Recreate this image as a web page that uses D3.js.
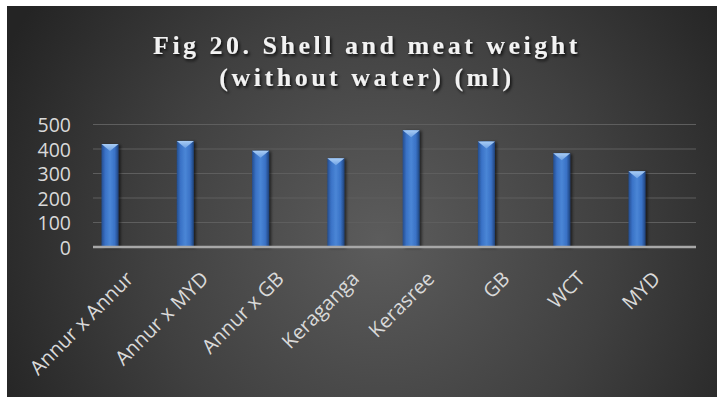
<!DOCTYPE html>
<html>
<head>
<meta charset="utf-8">
<script src="https://cdn.jsdelivr.net/npm/d3@7"></script>
<style>
  html, body { margin: 0; padding: 0; background: #ffffff; }
  svg { display: block; }
</style>
</head>
<body>
<svg id="chart" width="717" height="397"></svg>
<script>
// Shell and meat weight (without water), ml
const categories = ["Annur x Annur", "Annur x MYD", "Annur x GB", "Keraganga", "Kerasree", "GB", "WCT", "MYD"];
const values = [420, 433, 393, 362, 477, 431, 383, 309];
const yTicks = [0, 100, 200, 300, 400, 500];
const titleLines = ["Fig 20. Shell and meat weight", "(without water) (ml)"];

const svg = d3.select("#chart");
const W = 717, H = 397;
const defs = svg.append("defs");

// dark radial backdrop
const bg = defs.append("radialGradient").attr("id", "bgGrad")
  .attr("gradientUnits", "userSpaceOnUse")
  .attr("cx", 380).attr("cy", 240).attr("r", 420);
bg.append("stop").attr("offset", "0%").attr("stop-color", "#5c5c5c");
bg.append("stop").attr("offset", "55%").attr("stop-color", "#404040");
bg.append("stop").attr("offset", "100%").attr("stop-color", "#242424");

// bar body: darker edges, lighter middle
const barGrad = defs.append("linearGradient").attr("id", "barGrad")
  .attr("x1", "0%").attr("x2", "100%").attr("y1", "0%").attr("y2", "0%");
barGrad.append("stop").attr("offset", "0%").attr("stop-color", "#244d8e");
barGrad.append("stop").attr("offset", "22%").attr("stop-color", "#3a72c6");
barGrad.append("stop").attr("offset", "50%").attr("stop-color", "#4a86d6");
barGrad.append("stop").attr("offset", "78%").attr("stop-color", "#3a72c6");
barGrad.append("stop").attr("offset", "100%").attr("stop-color", "#1f437c");

const capGrad = defs.append("linearGradient").attr("id", "capGrad")
  .attr("x1", "0%").attr("x2", "0%").attr("y1", "0%").attr("y2", "100%");
capGrad.append("stop").attr("offset", "0%").attr("stop-color", "#a9cdf5");
capGrad.append("stop").attr("offset", "100%").attr("stop-color", "#6fa2e4");

const shadow = defs.append("filter").attr("id", "barShadow")
  .attr("x", "-50%").attr("y", "-10%").attr("width", "200%").attr("height", "120%");
shadow.append("feDropShadow").attr("dx", 2).attr("dy", 1).attr("stdDeviation", 1.5)
  .attr("flood-color", "#000").attr("flood-opacity", 0.6);

const tshadow = defs.append("filter").attr("id", "textShadow")
  .attr("x", "-10%").attr("y", "-30%").attr("width", "120%").attr("height", "160%");
tshadow.append("feDropShadow").attr("dx", 1.5).attr("dy", 2).attr("stdDeviation", 1.5)
  .attr("flood-color", "#000").attr("flood-opacity", 0.8);

svg.append("rect").attr("x", 7).attr("y", 6).attr("width", W - 7).attr("height", H - 6)
  .attr("fill", "url(#bgGrad)");

// title
const title = svg.append("text")
  .attr("text-anchor", "middle")
  .attr("font-family", "'Liberation Serif', 'DejaVu Serif', serif")
  .attr("font-weight", "bold")
  .attr("font-size", 26)
  .attr("letter-spacing", 3.5)
  .attr("fill", "#f2f2f2")
  .attr("filter", "url(#textShadow)");
titleLines.forEach((t, i) => {
  title.append("tspan").attr("x", 367).attr("y", 54 + i * 32).text(t);
});

// scales
const x = d3.scalePoint().domain(categories).range([110, 637]);
const y = d3.scaleLinear().domain([0, 500]).range([247, 124.5]);
const plotLeft = 93, plotRight = 696;
const barW = 17;

// gridlines
svg.append("g").selectAll("line").data(yTicks.filter(d => d > 0)).join("line")
  .attr("x1", plotLeft).attr("x2", plotRight)
  .attr("y1", d => y(d)).attr("y2", d => y(d))
  .attr("stroke", "#5e5e5e").attr("stroke-width", 1);

// y axis labels
const yAxis = d3.axisLeft(y).tickValues(yTicks).tickSize(0).tickPadding(0);
const yg = svg.append("g").attr("transform", "translate(71,0)").call(yAxis);
yg.select(".domain").remove();
yg.selectAll("text")
  .attr("font-family", "'Open Sans', sans-serif")
  .attr("font-size", 19.5)
  .attr("fill", "#d9d9d9")
  .attr("dy", "0.36em");

// bars
const bars = svg.append("g").selectAll("g").data(values).join("g")
  .attr("filter", "url(#barShadow)");
bars.append("rect")
  .attr("x", (d, i) => x(categories[i]) - barW / 2)
  .attr("y", d => y(d))
  .attr("width", barW)
  .attr("height", d => y(0) - y(d))
  .attr("fill", "url(#barGrad)");
bars.append("path")
  .attr("d", (d, i) => {
    const cx = x(categories[i]), top = y(d);
    return `M${cx - barW / 2},${top} L${cx + barW / 2},${top} L${cx},${top + 7} Z`;
  })
  .attr("fill", "url(#capGrad)");

// baseline
svg.append("line")
  .attr("x1", plotLeft).attr("x2", plotRight)
  .attr("y1", y(0)).attr("y2", y(0))
  .attr("stroke", "#a8a8a8").attr("stroke-width", 2.5);

// x axis labels
const xAxis = d3.axisBottom(x).tickSize(0).tickPadding(0);
const xg = svg.append("g").attr("transform", `translate(0,${y(0)})`).call(xAxis);
xg.select(".domain").remove();
xg.selectAll("text")
  .attr("font-family", "'Open Sans', sans-serif")
  .attr("font-size", 20)
  .attr("fill", "#d9d9d9")
  .attr("text-anchor", "end")
  .attr("dy", 0)
  .attr("y", 0)
  .attr("transform", "translate(24,33) rotate(-45)");
</script>
</body>
</html>
